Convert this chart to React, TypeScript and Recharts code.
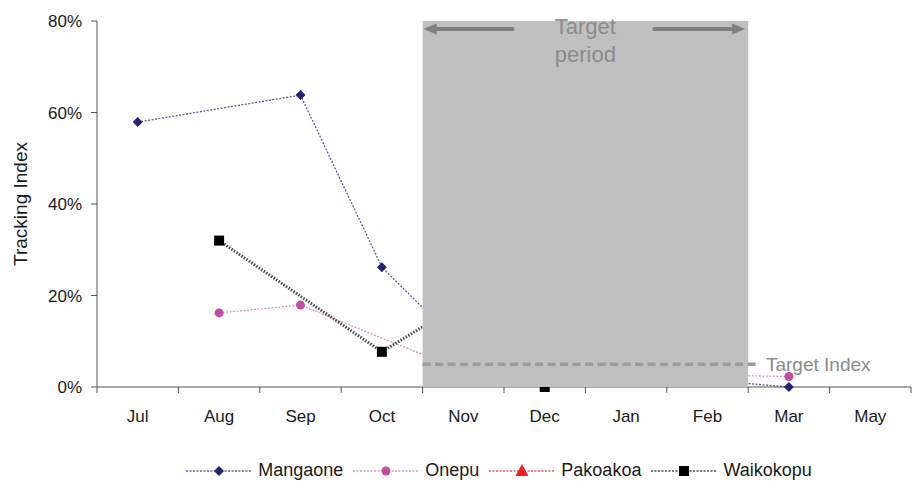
import React from 'react';
import { LineChart, Line, XAxis, YAxis, ReferenceArea, ReferenceLine, Legend } from 'recharts';

// categories and series values (fractions, null = no reading)
const months = ['Jul', 'Aug', 'Sep', 'Oct', 'Nov', 'Dec', 'Jan', 'Feb', 'Mar', 'May'];
const mangaone = [0.579, null, 0.638, 0.262, 0.085, 0.03, 0.02, 0.015, 0.0, null];
const onepu = [null, 0.162, 0.179, null, 0.035, 0.03, 0.028, 0.026, 0.023, null];
const pakoakoa = [null, null, null, null, null, null, null, null, null, null];
const waikokopu = [null, 0.32, null, 0.077, 0.186, 0.0, null, null, null, null];
const yTicks = [0, 0.2, 0.4, 0.6, 0.8];
const targetIndex = 0.05;
const targetStart = 4; // Nov boundary
const targetEnd = 8; // end of Feb

const CHART_W = 912;
const CHART_H = 484;
const MARGIN = { top: 21, right: 1, bottom: 0, left: 0 };
const Y_AXIS_W = 97;
const PLOT_W = CHART_W - MARGIN.left - MARGIN.right - Y_AXIS_W;
const HALF_BAND = PLOT_W / months.length / 2;
const FONT = '"Liberation Sans", Arial, sans-serif';

const data = months.map((m, i) => ({
  x: i + 0.5,
  month: m,
  Mangaone: mangaone[i],
  Onepu: onepu[i],
  Pakoakoa: pakoakoa[i],
  Waikokopu: waikokopu[i],
}));

const series = [
  { key: 'Mangaone', stroke: '#5a5aa8', width: 1.3, dash: '2 1.5', marker: 'diamond', fill: '#232372' },
  { key: 'Onepu', stroke: '#e48cc8', width: 1.3, dash: '2 1.5', marker: 'circle', fill: '#c24ea2' },
  { key: 'Pakoakoa', stroke: '#f05050', width: 1.3, dash: '2 1.5', marker: 'triangle', fill: '#ee1c25' },
  { key: 'Waikokopu', stroke: '#4a4a4a', width: 3, dash: '1.5 1.5', marker: 'square', fill: '#000000' },
];

function Marker({ type, cx, cy, fill }: { type: string; cx: number; cy: number; fill: string }) {
  if (type === 'diamond') {
    return <polygon points={`${cx},${cy - 5} ${cx + 5},${cy} ${cx},${cy + 5} ${cx - 5},${cy}`} fill={fill} />;
  }
  if (type === 'circle') return <circle cx={cx} cy={cy} r={4.5} fill={fill} />;
  if (type === 'triangle') {
    return <polygon points={`${cx},${cy - 7} ${cx + 6.5},${cy + 5} ${cx - 6.5},${cy + 5}`} fill={fill} />;
  }
  return <rect x={cx - 5} y={cy - 5} width={10} height={10} fill={fill} />;
}

const makeDot = (type: string, fill: string) => (props: any) => {
  const { cx, cy, value, index } = props;
  if (value == null || cy == null || isNaN(cy)) return <g key={`e-${index}`} />;
  return <Marker key={`d-${index}`} type={type} cx={cx} cy={cy} fill={fill} />;
};

const MonthTick = (props: any) => {
  const { x, y, payload } = props;
  const i = payload.value;
  if (i >= months.length) return <g />;
  return (
    <text x={x + HALF_BAND} y={y + 15} dy="0.71em" textAnchor="middle" fill="#1a1a1a" fontSize={17} fontFamily={FONT}>
      {months[i]}
    </text>
  );
};

const YLabel = (props: any) => {
  const vb = props.viewBox;
  const cy = vb.y + vb.height / 2;
  return (
    <text x={20} y={cy} transform={`rotate(-90, 20, ${cy})`} textAnchor="middle" dominantBaseline="central"
      fill="#1a1a1a" fontSize={19} fontFamily={FONT}>
      Tracking Index
    </text>
  );
};

const PeriodLabel = (props: any) => {
  const { x, y, width } = props.viewBox;
  const cx = x + width / 2;
  const ay = y + 8;
  const c = '#7f7f7f';
  return (
    <g>
      <line x1={x + 12} y1={ay} x2={x + 90} y2={ay} stroke={c} strokeWidth={4} strokeLinecap="round" />
      <polygon points={`${x + 1},${ay} ${x + 14},${ay - 5.5} ${x + 14},${ay + 5.5}`} fill={c} />
      <line x1={x + width - 94} y1={ay} x2={x + width - 15} y2={ay} stroke={c} strokeWidth={4} strokeLinecap="round" />
      <polygon points={`${x + width - 3},${ay} ${x + width - 16},${ay - 5.5} ${x + width - 16},${ay + 5.5}`} fill={c} />
      <text x={cx} y={y + 13} textAnchor="middle" fill="#8c8c8c" fontSize={22} fontFamily={FONT}>Target</text>
      <text x={cx} y={y + 41} textAnchor="middle" fill="#8c8c8c" fontSize={22} fontFamily={FONT}>period</text>
    </g>
  );
};

const LegendContent = () => (
  <div style={{
    height: 57,
    paddingLeft: Y_AXIS_W,
    display: 'flex',
    justifyContent: 'center',
    alignItems: 'flex-end',
    fontFamily: FONT,
    fontSize: 18,
    color: '#1a1a1a',
    boxSizing: 'border-box',
    paddingBottom: 3,
  }}>
    {series.map(s => (
      <div key={s.key} style={{ display: 'flex', alignItems: 'center', marginRight: 10 }}>
        <svg width={66} height={16} style={{ marginRight: 6 }}>
          <line x1={0} y1={8} x2={66} y2={8} stroke={s.stroke} strokeWidth={s.key === 'Waikokopu' ? 1.5 : 1.3} strokeDasharray="2 1.5" />
          <Marker type={s.marker} cx={33} cy={8} fill={s.fill} />
        </svg>
        <span>{s.key}</span>
      </div>
    ))}
  </div>
);

export default function App() {
  return (
    <div style={{ position: 'absolute', left: 0, top: 0, width: CHART_W, height: CHART_H, background: '#fff' }}>
      <LineChart width={CHART_W} height={CHART_H} data={data} margin={MARGIN}>
        <XAxis
          dataKey="x"
          type="number"
          domain={[0, months.length]}
          ticks={months.map((_, i) => i).concat([months.length])}
          interval={0}
          tick={<MonthTick />}
          tickSize={6}
          height={40}
          stroke="#555"
          allowDataOverflow
        />
        <YAxis
          domain={[0, 0.8]}
          ticks={yTicks}
          tickFormatter={(v: number) => `${Math.round(v * 100)}%`}
          tick={{ fill: '#1a1a1a', fontSize: 17, fontFamily: FONT }}
          tickSize={6}
          tickMargin={9}
          width={Y_AXIS_W}
          stroke="#555"
          label={<YLabel />}
        />
        <Legend verticalAlign="bottom" content={<LegendContent />} />
        {series.map(s => (
          <Line
            key={s.key}
            dataKey={s.key}
            stroke={s.stroke}
            strokeWidth={s.width}
            strokeDasharray={s.dash}
            dot={makeDot(s.marker, s.fill)}
            activeDot={false}
            connectNulls
            isAnimationActive={false}
          />
        ))}
        <ReferenceArea
          x1={targetStart}
          x2={targetEnd}
          y1={0}
          y2={0.8}
          fill="#c0c0c0"
          fillOpacity={1}
          stroke="none"
          zIndex={1500}
          label={<PeriodLabel />}
        />
        <ReferenceLine
          segment={[{ x: targetStart, y: targetIndex }, { x: targetEnd + 0.12, y: targetIndex }]}
          stroke="#9c9c9c"
          strokeWidth={3.5}
          strokeDasharray="8 4.5"
          zIndex={1600}
          label={{ value: 'Target Index', position: 'right', offset: 8, fill: '#8c8c8c', fontSize: 19, fontFamily: FONT }}
        />
      </LineChart>
    </div>
  );
}
